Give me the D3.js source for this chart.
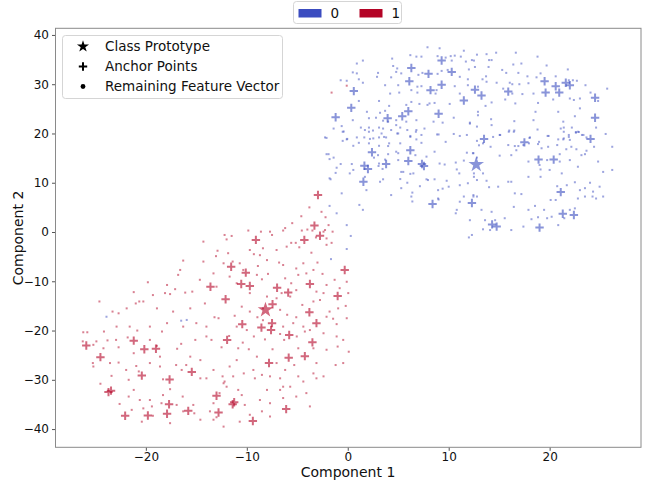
<!DOCTYPE html>
<html>
<head>
<meta charset="utf-8">
<title>feature space</title>
<script src="https://cdnjs.cloudflare.com/ajax/libs/d3/7.8.5/d3.min.js"></script>
<style>
  body { margin: 0; background: #fff; }
  svg { display: block; font-family: "DejaVu Sans", sans-serif; }
</style>
</head>
<body>
<svg id="chart" width="646" height="482"></svg>
<script>
// values (component 1, component 2)
const classes = ['0', '1'];
const classColors = ['#3b4cc0', '#b40426'];
const xTicks = [-20, -10, 0, 10, 20];
const yTicks = [-40, -30, -20, -10, 0, 10, 20, 30, 40];

const prototypes = [[12.73, 13.7], [-8.15, -15.8]];

const blueAnchors = [
  [9.3,34.8],[6.3,33.3],[8.0,32.1],[10.3,32.5],[6.1,30.6],[9.3,29.9],[8.2,28.8],[0.6,28.6],[12.6,28.9],[11.5,26.7],
  [0.35,25.2],[6.0,24.5],[9.0,24.0],[-1.2,23.3],[5.4,23.5],[3.95,23.1],
  [19.5,30.6],[20.6,29.6],[21.6,30.3],[22.0,29.8],[15.9,28.5],[19.6,28.3],[20.95,28.3],[13.25,27.7],[24.5,27.25],
  [24.5,23.2],[13.5,18.9],[24.05,18.9],
  [2.4,16.2],[6.2,16.6],[6.0,14.4],[1.65,13.45],[2.0,12.8],[3.8,13.8],[7.35,13.8],[7.55,13.4],[1.55,10.2],[8.4,5.7],[12.3,5.9],
  [17.5,18.2],[18.9,14.7],[20.4,14.7],[21.1,8.1],[21.3,3.7],[22.4,3.45],[14.3,1.55],[14.75,1.1],[19.0,0.9]
];

const redAnchors = [
  [-2.95,7.5],[-3.3,1.3],
  [-9.1,-1.6],[-4.3,-1.6],[-2.75,-0.75],[-11.55,-7.05],[-10.1,-8.25],[-0.3,-7.7],[-10.55,-10.55],[-9.7,-10.95],
  [-13.6,-11.1],[-7.0,-11.3],[-3.75,-10.55],[-5.9,-12.3],[-1.0,-13.0],[-12.1,-13.65],[-7.45,-14.65],[-3.8,-16.3],
  [-10.45,-18.7],[-7.5,-18.5],[-8.55,-19.4],[-7.6,-19.9],[-3.1,-18.5],[-5.8,-20.9],[-11.95,-21.9],[-21.2,-22.05],
  [-25.9,-23.05],[-20.15,-23.8],[-19.0,-23.7],[-3.5,-22.4],[-24.5,-25.4],[-5.85,-25.5],[-4.25,-25.2],[-7.8,-26.6],
  [-15.45,-28.4],[-20.4,-29.15],[-17.65,-29.95],[-23.45,-32.2],[-23.7,-32.5],[-13.0,-33.25],[-17.7,-34.95],
  [-11.25,-34.55],[-11.4,-34.95],[-6.1,-35.95],[-15.8,-36.3],[-12.8,-36.65],[-17.9,-36.9],[-22.05,-37.3],
  [-19.8,-37.25],[-9.4,-38.35]
];

const blueDots = [
  [7.9,37.5],[9.1,37.3],[11.5,36.8],[12.8,36.0],[6.2,35.9],[6.8,35.6],[7.3,35.6],[8.9,35.7],[9.7,35.4],[10.2,35.7],
  [10.6,35.8],[11.2,35.6],[12.3,34.9],[12.5,34.8],[4.4,35.2],[1.5,34.8],[0.9,34.2],[10.3,34.8],[11.7,34.6],[4.5,33.7],
  [4.9,33.2],[4.8,32.5],[5.3,32.2],[3.0,32.3],[7.0,31.9],[7.4,32.3],[8.9,32.1],[9.3,32.7],[9.9,32.9],[11.1,31.5],
  [11.9,31.0],[12.0,33.0],[0.5,32.4],[0.9,32.2],[2.9,31.5],[4.3,31.4],[-0.1,30.7],[1.1,31.0],[1.5,30.3],[-0.7,30.8],
  [3.7,29.8],[5.0,29.8],[6.9,29.5],[7.3,29.6],[8.8,28.8],[10.6,29.6],[11.9,29.8],[12.9,29.5],[6.3,28.8],[4.2,28.1],
  [5.1,28.3],[6.9,28.3],[8.7,28.1],[11.1,28.1],[1.1,26.6],[3.1,26.6],[4.1,25.6],[6.3,26.4],[8.1,26.1],[8.6,26.2],
  [10.1,26.0],[7.1,26.0],[7.9,25.8],[5.8,25.8],[3.7,24.6],[3.2,24.2],[1.9,24.4],[2.1,23.1],[2.8,23.2],[3.5,22.6],
  [4.0,22.4],[4.8,22.7],[5.8,22.4],[6.8,22.7],[4.8,21.7],[5.2,21.2],[3.1,21.2],[2.1,21.2],[1.3,21.2],[1.7,20.7],
  [2.5,20.6],[3.5,21.0],[4.3,20.7],[5.9,20.7],[6.8,20.7],[7.6,21.0],[8.5,22.4],[9.4,22.2],[10.5,23.2],[12.1,22.0],
  [12.9,24.4],[0.5,22.7],[-0.6,21.5],[-1.4,21.0],[-0.4,20.4],[-2.1,19.1],[-0.1,18.8],[0.9,19.2],[2.2,18.9],[3.6,19.3],
  [5.0,20.0],[6.2,19.3],[7.3,19.7],[9.0,19.8],[10.5,19.9],[11.8,19.7],[12.8,21.4],
  [13.75,36.1],[14.7,36.4],[16.65,36.4],[18.8,35.6],[14.0,34.9],[14.25,34.9],[12.6,33.5],[13.95,33.5],[16.4,34.0],
  [17.2,34.2],[19.7,33.8],[15.3,32.9],[15.7,32.3],[16.9,32.3],[17.8,31.6],[19.1,32.2],[21.8,33.0],[20.6,31.6],
  [13.7,31.6],[13.35,31.0],[13.75,30.5],[14.75,30.3],[16.05,30.3],[16.3,30.0],[17.0,30.0],[17.9,30.2],[18.7,31.4],
  [21.9,30.8],[22.3,30.8],[22.7,30.7],[23.55,29.8],[25.7,29.1],[15.4,29.1],[17.3,28.0],[18.4,28.1],[16.3,28.1],
  [15.6,26.9],[16.6,26.1],[20.35,26.9],[22.0,27.1],[22.4,26.8],[23.0,27.1],[24.05,28.3],[24.8,26.6],[14.25,26.3],
  [13.65,25.6],[18.85,26.2],[23.0,25.1],[18.6,24.4],[20.85,24.4],[22.5,23.5],[12.9,23.7],[14.2,22.9],[16.5,22.5],
  [18.4,22.7],[21.35,22.4],[12.1,22.2],[14.25,21.7],[16.0,20.6],[16.5,20.6],[18.8,20.8],[19.8,19.5],[21.1,21.0],
  [21.4,21.2],[22.2,21.2],[22.6,20.3],[22.9,20.3],[24.6,21.2],[25.55,19.9],[15.05,19.7],[18.0,19.1],[21.4,19.0],
  [21.9,19.3],[23.35,19.7],[23.65,19.2],
  [-0.5,20.35],[2.1,20.35],[3.35,20.0],[4.9,20.0],[6.75,20.35],[8.85,19.8],[-2.25,19.2],[-0.05,18.9],[-0.5,18.5],
  [1.64,19.2],[2.53,19.0],[3.1,19.2],[3.8,19.2],[4.1,18.0],[5.2,18.0],[6.2,19.5],[6.8,18.8],[7.3,18.1],[9.7,18.3],
  [11.1,19.5],[12.8,18.5],[13.0,17.6],[0.55,17.5],[1.1,18.1],[2.1,18.0],[3.1,17.5],[4.0,17.45],[4.8,16.3],[5.0,16.0],
  [6.7,15.6],[7.8,15.3],[8.6,16.3],[-2.1,15.8],[-1.9,15.8],[-1.4,15.1],[-1.8,14.8],[-0.7,13.8],[0.4,13.8],[-1.1,13.05],
  [-1.2,12.0],[3.0,15.6],[2.6,15.1],[4.0,15.8],[3.7,14.7],[3.1,13.9],[3.05,13.4],[3.45,12.8],[5.0,14.6],[5.3,12.2],
  [5.5,12.2],[6.2,11.8],[6.5,11.9],[9.1,13.9],[9.6,13.7],[10.7,14.1],[11.5,14.5],[11.8,16.1],[12.4,16.0],[12.8,15.1],
  [-1.8,10.9],[-1.7,10.7],[0.2,11.9],[0.55,12.6],[1.7,11.2],[3.2,10.2],[3.5,10.7],[5.2,10.75],[5.9,10.0],[7.8,10.7],
  [7.95,10.55],[8.6,10.7],[9.8,10.4],[10.8,12.7],[11.05,11.9],[12.5,11.9],[12.8,10.55],[1.85,8.5],[4.3,7.5],[5.3,8.9],
  [6.4,8.0],[7.15,9.3],[8.95,8.5],[9.4,8.8],[10.0,9.2],[11.1,9.5],[11.9,9.9],[-0.6,7.85],[-1.8,5.3],[-1.1,3.8],
  [1.15,5.5],[1.5,4.5],[-0.1,1.4],[0.3,-0.8],[6.3,7.2],[6.4,6.2],[8.95,6.8],[9.0,6.6],[11.1,6.15],[11.5,7.2],
  [10.8,4.5],[10.7,3.8],[12.1,2.4],[12.0,-1.1],[12.3,-0.6],[12.8,7.2],[12.45,7.5],
  [14.4,19.3],[15.1,19.7],[15.95,20.35],[16.45,20.35],[18.05,19.2],[18.95,18.3],[19.9,19.5],[20.85,18.8],[21.35,18.8],
  [21.4,20.35],[21.9,19.7],[22.0,18.7],[22.6,20.15],[22.8,20.35],[23.2,19.7],[26.2,17.3],[24.4,17.3],[23.65,16.5],
  [23.15,15.6],[13.4,18.0],[14.15,17.3],[15.9,17.65],[16.55,17.45],[16.9,17.45],[17.4,17.65],[17.95,18.0],[18.85,17.85],
  [19.2,17.0],[19.85,17.3],[20.75,17.65],[21.0,15.8],[21.65,16.8],[22.15,17.3],[22.65,16.8],[23.5,15.8],[12.45,16.0],
  [15.05,15.5],[16.2,15.6],[16.7,16.6],[17.9,14.3],[19.0,13.6],[19.75,14.6],[21.0,14.3],[22.0,14.6],[22.8,13.25],
  [24.8,14.3],[25.3,12.2],[26.2,12.6],[12.5,11.2],[13.4,11.9],[13.75,10.4],[14.0,9.1],[14.9,9.2],[15.9,10.2],[16.2,10.2],
  [16.55,7.85],[17.2,7.7],[17.9,11.2],[19.1,12.7],[19.1,11.2],[20.0,12.6],[20.75,9.3],[21.2,11.9],[21.7,9.5],[22.5,10.1],
  [23.0,8.5],[23.5,8.9],[24.0,10.0],[24.3,8.2],[24.95,9.2],[12.45,7.2],[13.25,4.5],[14.25,4.1],[13.6,2.4],[13.4,0.55],
  [14.1,0.4],[14.6,2.4],[15.55,2.8],[16.2,0.4],[16.45,5.1],[17.4,1.1],[17.9,4.5],[18.2,2.6],[18.55,5.3],[18.85,3.0],
  [19.45,4.5],[19.75,2.8],[20.1,6.5],[20.2,3.1],[20.6,6.5],[20.85,1.4],[21.45,2.8],[22.0,4.5],[22.5,4.8],[22.8,6.8],
  [23.5,7.2],[24.25,7.2],[24.6,6.8],[25.3,7.2],
  [-23.9,-17.2],[-16.5,-18.0],[-15.95,-17.85],[-1.66,-5.5],[-0.1,-3.45]
];

const redDots = [
  [-0.1,29.7],[-1.6,28.3],
  [-2.6,4.1],[-2.2,3.0],[-1.9,1.4],[-2.25,0.4],[-2.1,-1.3],[-3.8,5.0],[-4.6,3.2],[-5.5,1.8],[-4.0,0.5],[-6.2,0.8],
  [-12.2,-0.6],[-11.5,-0.8],[-9.85,0.3],[-8.6,0.07],[-7.7,0.07],[-7.5,-0.6],[-6.4,0.3],[-4.55,0.3],[-3.5,0.3],
  [-3.15,-1.1],[-2.4,0.07],[-1.5,0.07],[-2.1,-2.6],[-1.6,-2.2],[-14.3,-1.95],[-12.0,-1.5],[-5.6,-2.2],[-5.15,-2.2],
  [-4.8,-3.1],[-3.6,-4.2],[-6.05,-2.97],[-8.4,-3.3],[-9.3,-4.5],[-8.7,-4.7],[-13.05,-4.9],[-12.9,-3.8],[-11.85,-4.3],
  [-16.3,-5.8],[-16.8,-8.7],[-16.6,-7.7],[-14.3,-6.0],[-13.3,-8.4],[-12.3,-6.35],[-11.4,-6.0],[-10.7,-6.35],[-8.9,-6.9],
  [-8.0,-5.7],[-6.8,-6.2],[-6.4,-6.7],[-5.1,-7.4],[-4.4,-6.35],[-3.0,-6.2],[-2.5,-8.5],[-1.3,-9.7],[-0.1,-10.1],
  [-3.4,-7.7],[-4.9,-8.7],[-7.9,-8.5],[-9.0,-8.7],[-19.8,-10.2],[-17.9,-10.75],[-17.6,-12.6],[-17.1,-11.6],[-16.1,-12.3],
  [-15.4,-12.1],[-11.0,-10.4],[-11.7,-9.05],[-8.5,-9.6],[-6.2,-9.4],[-5.6,-10.4],[-6.55,-12.4],[-5.1,-11.8],[-3.1,-12.1],
  [-2.1,-10.75],[-0.8,-11.4],[0.05,-12.4],[-2.4,-12.4],
  [-4.1,-8.4],[-9.7,-3.65],[-7.05,-3.65],[-14.65,-9.7],[-13.0,-11.1],[-10.35,-7.7],
  [-9.7,-12.4],[-8.0,-13.1],[-7.05,-13.45],[-5.7,-13.1],
  [-24.6,-14.1],[-23.3,-16.15],[-22.7,-16.5],[-21.9,-15.5],[-21.2,-12.2],[-21.0,-14.5],[-20.65,-14.1],[-20.25,-14.1],
  [-19.3,-12.8],[-18.9,-15.5],[-18.1,-12.4],[-17.3,-16.15],[-15.6,-15.5],[-14.15,-14.5],[-13.2,-17.3],[-12.8,-17.5],
  [-11.2,-17.0],[-10.5,-15.15],[-9.7,-16.15],[-8.95,-17.3],[-8.4,-15.5],[-6.7,-15.8],[-6.0,-16.8],[-5.1,-17.3],
  [-4.5,-14.8],[-3.4,-14.1],[-2.75,-13.8],[-1.8,-16.15],[-0.95,-15.5],[-0.2,-15.0],[-0.1,-17.5],[-1.1,-18.7],[-1.45,-17.6],
  [-8.4,-17.9],[-6.4,-19.2],[-5.4,-18.5],[-4.4,-19.2],[-3.75,-19.9],[-11.0,-19.2],[-10.0,-19.9],[-14.0,-19.2],
  [-15.0,-18.5],[-16.3,-19.2],[-17.9,-18.5],[-21.6,-19.2],[-22.9,-19.2],[-2.1,-17.2],
  [-26.2,-20.35],[-25.8,-20.35],[-24.15,-20.2],[-23.8,-22.0],[-22.95,-21.9],[-22.7,-23.4],[-21.8,-21.4],[-20.85,-20.0],
  [-19.6,-19.2],[-19.6,-21.9],[-18.9,-23.1],[-18.4,-20.2],[-16.5,-22.7],[-16.9,-23.7],[-15.1,-21.9],[-13.5,-21.9],
  [-14.0,-21.2],[-12.5,-23.4],[-11.75,-21.1],[-10.85,-23.6],[-10.4,-22.45],[-9.8,-23.8],[-9.3,-21.2],[-8.2,-21.8],
  [-7.45,-23.8],[-6.7,-20.7],[-6.3,-21.9],[-5.05,-21.2],[-4.9,-23.6],[-4.25,-20.2],[-3.4,-23.6],[-2.4,-20.55],
  [-2.1,-23.9],[-1.0,-23.25],[0.1,-24.3],[-24.2,-23.6],[-24.9,-22.2],[-25.2,-22.9],[-26.25,-22.2],
  [-1.1,-21.2],[-0.45,-21.9],[-0.45,-26.6],[-3.1,-26.6],[-11.0,-26.0],[-9.0,-25.3],[-7.05,-26.6],[-11.7,-27.3],
  [-14.6,-26.0],[-15.6,-25.3],[-18.6,-25.3],[-21.2,-24.6],[-9.35,-28.0],[-6.4,-31.4],
  [-25.25,-26.6],[-25.2,-27.3],[-23.55,-26.6],[-23.4,-29.2],[-24.5,-30.8],[-22.7,-26.5],[-21.95,-28.0],[-21.7,-30.0],
  [-20.95,-27.2],[-20.7,-28.3],[-19.6,-26.6],[-18.6,-27.3],[-18.3,-29.9],[-17.0,-27.0],[-16.45,-28.0],[-16.0,-27.0],
  [-14.6,-29.7],[-14.0,-29.7],[-13.3,-28.0],[-12.4,-29.3],[-12.2,-30.35],[-11.35,-29.3],[-10.3,-28.7],[-9.2,-29.7],
  [-8.5,-29.0],[-7.7,-29.3],[-6.7,-29.7],[-6.2,-28.0],[-5.3,-27.0],[-4.9,-29.3],[-4.4,-30.35],[-3.4,-28.7],[-3.1,-29.7],
  [-2.4,-29.3],[-1.2,-27.0],
  [-22.6,-34.9],[-21.7,-33.4],[-21.2,-32.05],[-20.6,-34.1],[-20.25,-35.8],[-19.6,-34.1],[-19.4,-35.4],[-18.3,-33.1],
  [-18.45,-34.75],[-17.6,-31.9],[-16.95,-35.1],[-16.35,-33.4],[-16.3,-36.4],[-15.3,-35.1],[-15.2,-36.8],[-13.65,-36.4],
  [-13.3,-34.75],[-13.0,-37.6],[-12.7,-32.7],[-12.3,-30.7],[-12.0,-31.4],[-10.85,-32.05],[-10.5,-33.1],[-10.2,-35.1],
  [-9.7,-37.1],[-8.7,-34.1],[-8.0,-32.05],[-7.7,-34.75],[-6.7,-32.05],[-6.4,-33.7],[-5.7,-31.4],[-5.1,-33.4],
  [-4.1,-32.7],[-3.75,-35.4],[-7.7,-37.45],[-12.3,-39.5],[-14.6,-38.1],[-17.6,-38.8],[-20.4,-38.5],[-21.4,-36.1],
  [-19.3,-37.3],[-8.5,-36.4],[-10.7,-38.5],[-13.3,-38.1]
];

const legendItems = ['Class Prototype', 'Anchor Points', 'Remaining Feature Vector'];

const svg = d3.select('#chart');

const x = d3.scaleLinear().domain([-28.95, 29.05]).range([55.5, 641]);
const y = d3.scaleLinear().domain([-43.7, 41.35]).range([447.3, 28.3]);

// axes
const xAxis = svg.append('g')
  .attr('transform', 'translate(0,447.3)')
  .call(d3.axisBottom(x).tickValues(xTicks).tickSize(3.5).tickPadding(2));
const yAxis = svg.append('g')
  .attr('transform', 'translate(55.5,0)')
  .call(d3.axisLeft(y).tickValues(yTicks).tickSize(3.5).tickPadding(3));
[xAxis, yAxis].forEach(a => {
  a.select('.domain').remove();
  a.selectAll('line').attr('stroke', '#555');
  a.selectAll('text').attr('fill', '#111').style('font-size', '12px').style('font-family', '"DejaVu Sans", sans-serif');
});

const plot = svg.append('g');

// remaining feature vectors
const dotSets = [blueDots, redDots];
dotSets.forEach((set, i) => {
  plot.selectAll('.dot' + i)
    .data(set)
    .enter()
    .append('rect')
    .attr('class', 'dot' + i)
    .attr('x', d => x(d[0]) - 1)
    .attr('y', d => y(d[1]) - 1)
    .attr('width', 2)
    .attr('height', 2)
    .attr('fill', classColors[i])
    .attr('opacity', 0.5);
});

// anchor points
const plusPath = 'M-4.2,0H4.2M0,-4.2V4.2';
[blueAnchors, redAnchors].forEach((set, i) => {
  plot.selectAll('.anchor' + i)
    .data(set)
    .enter()
    .append('path')
    .attr('class', 'anchor' + i)
    .attr('d', plusPath)
    .attr('transform', d => `translate(${x(d[0])},${y(d[1])})`)
    .attr('stroke', classColors[i])
    .attr('stroke-width', 2)
    .attr('stroke-opacity', 0.6);
});

// class prototypes
const star = d3.symbol().type(d3.symbolStar).size(75);
plot.selectAll('.proto')
  .data(prototypes)
  .enter()
  .append('path')
  .attr('class', 'proto')
  .attr('d', star)
  .attr('transform', d => `translate(${x(d[0])},${y(d[1])})`)
  .attr('fill', (d, i) => classColors[i])
  .attr('opacity', 0.6);

// frame
svg.append('rect')
  .attr('x', 55.5).attr('y', 28.3)
  .attr('width', 585.5).attr('height', 419)
  .attr('fill', 'none')
  .attr('stroke', '#8a8a8a')
  .attr('stroke-width', 1);

// axis labels
svg.append('text')
  .attr('x', 348).attr('y', 477)
  .attr('text-anchor', 'middle')
  .style('font-size', '14px')
  .attr('fill', '#111')
  .text('Component 1');
svg.append('text')
  .attr('transform', 'translate(23,238) rotate(-90)')
  .attr('text-anchor', 'middle')
  .style('font-size', '14px')
  .attr('fill', '#111')
  .text('Component 2');

// marker legend (upper left)
const lg = svg.append('g');
lg.append('rect')
  .attr('x', 62.5).attr('y', 35.5)
  .attr('width', 220).attr('height', 63)
  .attr('rx', 3)
  .attr('fill', 'white').attr('fill-opacity', 0.8)
  .attr('stroke', '#d5d5d5');
const rowY = d3.scalePoint().domain(legendItems).range([46.5, 86.5]);
lg.append('path')
  .attr('d', d3.symbol().type(d3.symbolStar).size(45))
  .attr('transform', `translate(83,${rowY(legendItems[0])})`)
  .attr('fill', '#000');
lg.append('path')
  .attr('d', 'M-4.2,0H4.2M0,-4.2V4.2')
  .attr('transform', `translate(83,${rowY(legendItems[1])})`)
  .attr('stroke', '#000').attr('stroke-width', 2);
lg.append('circle')
  .attr('cx', 83).attr('cy', rowY(legendItems[2]))
  .attr('r', 2.4)
  .attr('fill', '#000');
lg.selectAll('.ltext')
  .data(legendItems)
  .enter()
  .append('text')
  .attr('class', 'ltext')
  .attr('x', 105)
  .attr('y', d => rowY(d))
  .attr('dy', '0.35em')
  .style('font-size', '13.5px')
  .attr('fill', '#111')
  .text(d => d);

// class legend (top centre)
const cl = svg.append('g');
cl.append('rect')
  .attr('x', 293.5).attr('y', 1.5)
  .attr('width', 108).attr('height', 22)
  .attr('rx', 3)
  .attr('fill', 'white')
  .attr('stroke', '#d5d5d5');
const classX = d3.scalePoint().domain(classes).range([298.5, 359.5]);
cl.selectAll('.patch')
  .data(classes)
  .enter()
  .append('rect')
  .attr('class', 'patch')
  .attr('x', d => classX(d))
  .attr('y', 9)
  .attr('width', 23)
  .attr('height', 8.5)
  .attr('fill', (d, i) => classColors[i]);
cl.selectAll('.ctext')
  .data(classes)
  .enter()
  .append('text')
  .attr('class', 'ctext')
  .attr('x', d => classX(d) + 32)
  .attr('y', 13.5)
  .attr('dy', '0.35em')
  .style('font-size', '13.5px')
  .attr('fill', '#111')
  .text(d => d);
</script>
</body>
</html>
